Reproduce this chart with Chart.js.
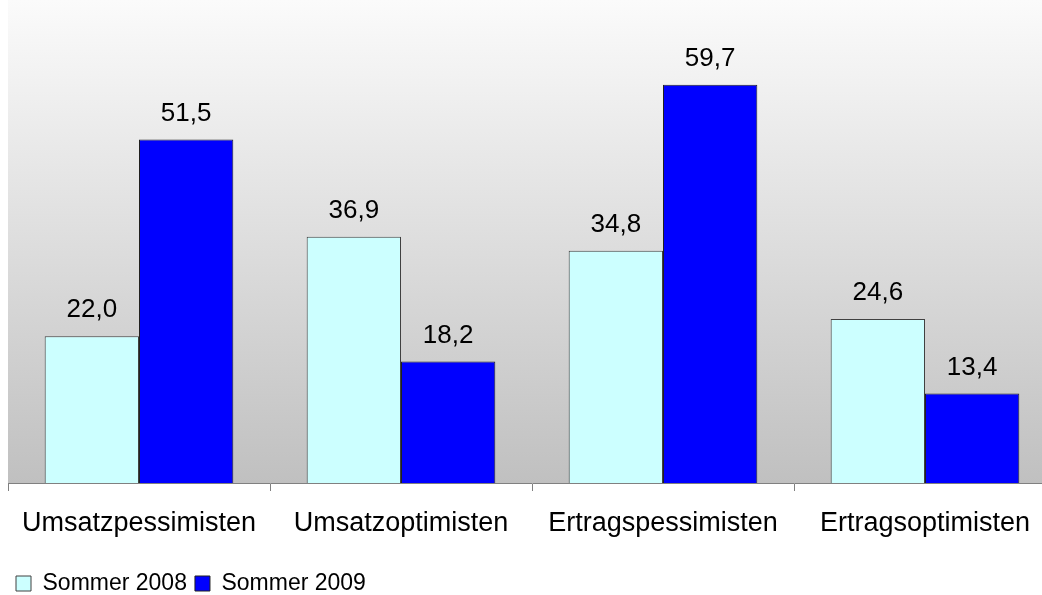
<!DOCTYPE html>
<html>
<head>
<meta charset="utf-8">
<script src="https://cdn.jsdelivr.net/npm/chart.js@4"></script>
<style>
  html, body { margin: 0; padding: 0; background: #fff; overflow: hidden; }
  #wrap { width: 1042px; height: 595px; overflow: hidden; }
</style>
</head>
<body>
<div id="wrap"><canvas id="chart" width="1056" height="595"></canvas></div>
<script>
const categories = ["Umsatzpessimisten", "Umsatzoptimisten", "Ertragspessimisten", "Ertragsoptimisten"];
const seriesNames = ["Sommer 2008", "Sommer 2009"];
const sommer2008 = [22.0, 36.9, 34.8, 24.6];
const sommer2009 = [51.5, 18.2, 59.7, 13.4];

const FONT = '"Liberation Sans", Arial, sans-serif';

// grey gradient behind the bars, fading to white at the top
const backdrop = {
  id: "backdrop",
  beforeDraw(chart) {
    const { ctx, chartArea } = chart;
    const g = ctx.createLinearGradient(0, 0, 0, chartArea.bottom);
    g.addColorStop(0, "#fbfbfb");
    g.addColorStop(1, "#c0c0c0");
    ctx.save();
    ctx.fillStyle = g;
    ctx.fillRect(chartArea.left, 0, chart.width - chartArea.left, chartArea.bottom);
    ctx.restore();
  },
};

// value labels above each bar, German decimal comma
const valueLabels = {
  id: "valueLabels",
  afterDatasetsDraw(chart) {
    const { ctx } = chart;
    ctx.save();
    ctx.font = "26px " + FONT;
    ctx.fillStyle = "#000";
    ctx.textAlign = "center";
    ctx.textBaseline = "middle";
    chart.data.datasets.forEach((ds, i) => {
      chart.getDatasetMeta(i).data.forEach((bar, j) => {
        const txt = ds.data[j].toFixed(1).replace(".", ",");
        ctx.fillText(txt, bar.x, bar.y - 26);
      });
    });
    ctx.restore();
  },
};

new Chart(document.getElementById("chart"), {
  type: "bar",
  data: {
    labels: categories,
    datasets: [
      {
        label: seriesNames[0],
        data: sommer2008,
        backgroundColor: "#ccffff",
        borderColor: "#404040",
        borderWidth: 1,
      },
      {
        label: seriesNames[1],
        data: sommer2009,
        backgroundColor: "#0000ff",
        borderColor: "#202020",
        borderWidth: 1,
      },
    ],
  },
  options: {
    responsive: false,
    animation: false,
    layout: { padding: { left: 8, right: 0, top: 16, bottom: -10 } },
    datasets: {
      bar: { categoryPercentage: 0.72, barPercentage: 1.0 },
    },
    scales: {
      y: {
        display: false,
        min: 0,
        max: 70,
      },
      x: {
        grid: {
          drawOnChartArea: false,
          tickLength: 8,
          color: "#808080",
        },
        border: { color: "#808080" },
        ticks: {
          padding: 16,
          color: "#000",
          font: { family: FONT, size: 27 },
        },
        afterFit(scale) {
          scale.height = 81;
        },
      },
    },
    plugins: {
      tooltip: { enabled: false },
      legend: {
        position: "bottom",
        align: "start",
        labels: {
          color: "#000",
          font: { family: FONT, size: 23 },
          boxWidth: 15,
          boxHeight: 15,
          padding: 8,
        },
      },
    },
  },
  plugins: [backdrop, valueLabels],
});
</script>
</body>
</html>
